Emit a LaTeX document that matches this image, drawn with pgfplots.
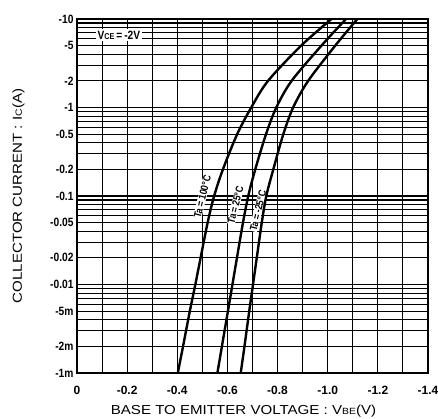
\documentclass[border=0pt]{standalone}
\usepackage{fontspec}
\setmainfont{Liberation Sans}
\newfontfamily\condfont{Liberation Sans}[FakeStretch=0.85]
\newfontfamily\widefont{Liberation Sans}[FakeStretch=1.16]
\usepackage{pgfplots}
\pgfplotsset{compat=1.18}
\pgfplotstableread{
I V
0.001 -0.402
0.002 -0.423
0.005 -0.450
0.01 -0.472
0.02 -0.493
0.05 -0.521
0.1 -0.547
0.2 -0.582
0.5 -0.639
1 -0.695
2 -0.762
5 -0.894
10 -1.015
}\tahundred
\pgfplotstableread{
I V
0.001 -0.560
0.002 -0.578
0.005 -0.602
0.01 -0.620
0.02 -0.638
0.05 -0.662
0.1 -0.683
0.2 -0.711
0.5 -0.754
1 -0.795
2 -0.856
5 -0.975
10 -1.073
}\tatwentyfive
\pgfplotstableread{
I V
0.001 -0.653
0.002 -0.668
0.005 -0.687
0.01 -0.702
0.02 -0.717
0.05 -0.737
0.1 -0.755
0.2 -0.783
0.5 -0.823
1 -0.862
2 -0.922
5 -1.030
10 -1.118
}\taminustwentyfive
\begin{document}
\begin{tikzpicture}
\path[use as bounding box] (-77pt,-46pt) rectangle (361pt,373pt);
\begin{axis}[
  at={(0pt,0pt)}, anchor=south west,
  scale only axis, width=351pt, height=354pt,
  ymode=log, ymin=0.001, ymax=10,
  xmin=-1.4, xmax=0, x dir=reverse,
  xtick={-1.4,-1.2,-1,-0.8,-0.6,-0.4,-0.2,0},
  xticklabels={-1.4,-1.2,-1.0,-0.8,-0.6,-0.4,-0.2,0},
  minor xtick={-1.3,-1.1,-0.9,-0.7,-0.5,-0.3,-0.1},
  ytick={0.001,0.002,0.005,0.01,0.02,0.05,0.1,0.2,0.5,1,2,5,10},
  yticklabels={-1m,-2m,-5m,-0.01,-0.02,-0.05,-0.1,-0.2,-0.5,-1,-2,-5,-10},
  minor ytick={0.003,0.004,0.006,0.007,0.008,0.009,
               0.03,0.04,0.06,0.07,0.08,0.09,
               0.3,0.4,0.6,0.7,0.8,0.9,
               3,4,6,7,8,9},
  grid=both,
  major grid style={black, line width=1.1pt},
  minor grid style={black, line width=1.1pt},
  axis line style={black, line width=1.8pt},
  major tick length=0pt, minor tick length=0pt,
  yticklabel style={font=\condfont\bfseries\fontsize{12}{12}\selectfont},
  xticklabel style={font=\bfseries\fontsize{12}{12}\selectfont, yshift=-10pt},
  clip=true,
]
\node[fill=white, inner sep=1.5pt, font=\condfont\bfseries\fontsize{12}{12}\selectfont]
  at (axis cs:-0.167,6.6) {V{\fontsize{8.5}{8.5}\selectfont CE}\,=\,-2V};
\node[fill=white, inner sep=0.4pt, rotate=76, font=\condfont\bfseries\fontsize{10.5}{10.5}\selectfont]
  at (axis cs:-0.50,0.098) {Ta\,=\,100°C};
\node[fill=white, inner sep=0.4pt, rotate=76, font=\condfont\bfseries\fontsize{10.5}{10.5}\selectfont]
  at (axis cs:-0.632,0.079) {Ta\,=\,25°C};
\node[fill=white, inner sep=0.4pt, rotate=76, font=\condfont\bfseries\fontsize{10.5}{10.5}\selectfont]
  at (axis cs:-0.722,0.068) {Ta\,=\,-25°C};
\addplot[black, line width=2.4pt, smooth] table[x=V, y=I] {\tahundred};
\addplot[black, line width=2.4pt, smooth] table[x=V, y=I] {\tatwentyfive};
\addplot[black, line width=2.4pt, smooth] table[x=V, y=I] {\taminustwentyfive};
\end{axis}
\node[anchor=base, font=\widefont\fontsize{13}{13}\selectfont] at (166.5pt,-42pt)
  {BASE TO EMITTER VOLTAGE : V{\fontsize{9}{9}\selectfont BE}(V)};
\node[rotate=90, font=\widefont\fontsize{13}{13}\selectfont] at (-58.5pt,177pt)
  {COLLECTOR CURRENT : I{\fontsize{9}{9}\selectfont C}(A)};
\end{tikzpicture}
\end{document}
